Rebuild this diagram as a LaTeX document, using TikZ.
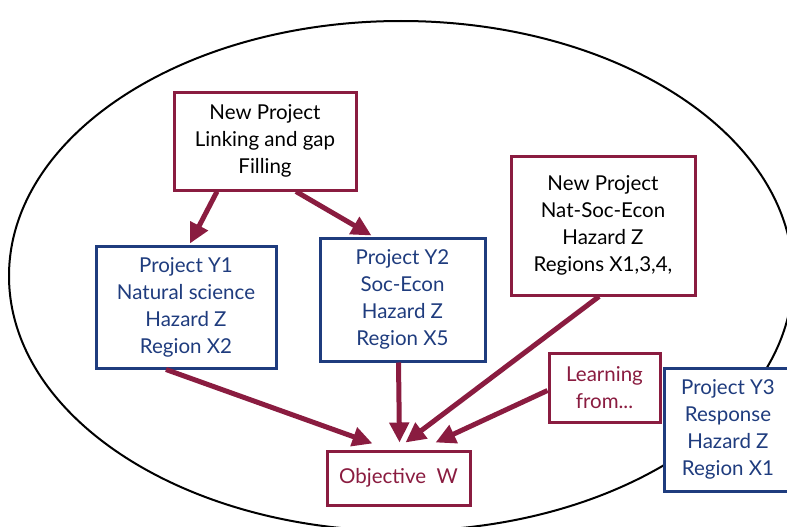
\documentclass[tikz,border=0pt]{standalone}
\usepackage{fontspec}
\setmainfont{Lato}
\usetikzlibrary{arrows.meta,calc}
\definecolor{maroon}{HTML}{8A1C40}
\definecolor{navy}{HTML}{1F3C7E}
\tikzset{
  base/.style={draw, line width=3pt, fill=white, align=center, inner sep=0pt,
    font=\fontsize{20.5}{27}\selectfont},
  redbox/.style={base, draw=maroon},
  bluebox/.style={base, draw=navy, text=navy},
  redtext/.style={redbox, text=maroon},
  conn/.style={draw=maroon, line width=5pt, -{Triangle[length=20pt,width=19pt]}},
}
\begin{document}
\begin{tikzpicture}[x=1pt,y=-1pt]
\useasboundingbox (0,0) rectangle (787,527);
\draw[line width=2pt] (401,276) ellipse [x radius=392, y radius=255];
\node[redbox, minimum width=182, minimum height=98] (top) at (265,141) {New Project\\Linking and gap\\Filling};
\node[bluebox, minimum width=180, minimum height=122] (y1) at (186,307) {Project Y1\\Natural science\\Hazard Z\\Region X2};
\node[bluebox, minimum width=165, minimum height=123] (y2) at (402.5,299.5) {Project Y2\\Soc-Econ\\Hazard Z\\Region X5};
\node[redbox, minimum width=184, minimum height=139] (np2) at (603,225.5) {New Project\\Nat-Soc-Econ\\Hazard Z\\Regions X1,3,4,};
\node[redtext, minimum width=111, minimum height=69] (learn) at (604.5,387.5) {Learning\\from...};
\node[bluebox, minimum width=128, minimum height=123] (y3) at (728,429.5) {Project Y3\\Response\\Hazard Z\\Region X1};
\node[redtext, minimum width=143, minimum height=54] (obj) at (398.5,478) {Objective\ \ W};
\draw[conn] ($(top.south)+(-48,0)$) -- ($(y1.north)+(4,-1)$);
\draw[conn] ($(top.south)+(31,0)$) -- ($(y2.north)+(-31,-1)$);
\draw[conn] ($(y1.south)+(-20,0)$) -- ($(obj.north)+(-26,-6)$);
\draw[conn] ($(y2.south)+(-4,0)$) -- ($(obj.north)+(1,-7)$);
\draw[conn] ($(np2.south)+(-4,0)$) -- ($(obj.north)+(7,-7)$);
\draw[conn] ($(learn.west)+(0,3)$) -- ($(obj.north)+(37,-7)$);
\end{tikzpicture}
\end{document}
